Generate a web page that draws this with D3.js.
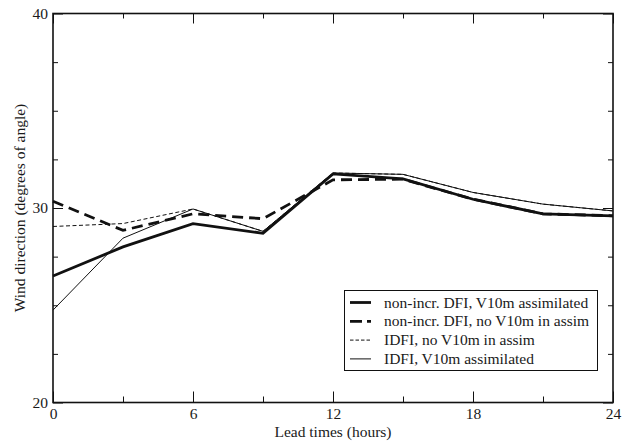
<!DOCTYPE html>
<html>
<head>
<meta charset="utf-8">
<script src="https://cdn.jsdelivr.net/npm/d3@7"></script>
<style>
  body { margin: 0; background: #fff; }
  text { font-family: "Liberation Serif", "DejaVu Serif", serif; fill: #1a1a1a; }
</style>
</head>
<body>
<svg id="svg" width="624" height="441"></svg>
<script>
// lead times (hours)
const hours = [0, 3, 6, 9, 12, 15, 18, 21, 24];

// wind direction (degrees) per experiment
const dfiAssim   = [26.5, 28.0, 29.2, 28.7, 31.75, 31.5, 30.45, 29.7, 29.6];
const dfiNoAssim = [30.35, 28.85, 29.7, 29.45, 31.45, 31.48, 30.45, 29.7, 29.6];
const idfiNoAssim = [29.05, 29.2, 29.95, 28.8, 31.8, 31.73, 30.8, 30.2, 29.85];
const idfiAssim  = [24.75, 28.45, 29.95, 28.8, 31.8, 31.73, 30.8, 30.2, 29.85];

const seriesNames = [
  "non-incr. DFI, V10m assimilated",
  "non-incr. DFI, no V10m in assim",
  "IDFI, no V10m in assim",
  "IDFI, V10m assimilated"
];

const xTicks = [0, 3, 6, 9, 12, 15, 18, 21, 24];
const xLabels = [0, 6, 12, 18, 24];
const yTicks = [20, 22.5, 25, 27.5, 30, 32.5, 35, 37.5, 40];
const yLabels = [20, 30, 40];

const margin = {top: 13.5, right: 11, bottom: 38.5, left: 53};
const width = 624 - margin.left - margin.right;
const height = 441 - margin.top - margin.bottom;

const svg = d3.select("#svg");
const g = svg.append("g")
  .attr("transform", "translate(" + margin.left + "," + margin.top + ")");

const x = d3.scaleLinear().domain([0, 24]).range([0, width]);
const y = d3.scaleLinear().domain([20, 40]).range([height, 0]);

// line styles for each series
const styles = [
  {w: 2.8, dash: null, legendDash: null},
  {w: 2.8, dash: "11,6", legendDash: "12,5"},
  {w: 1, dash: "4,2.5", legendDash: "3.5,2"},
  {w: 1, dash: null, legendDash: null}
];
const allSeries = [dfiAssim, dfiNoAssim, idfiNoAssim, idfiAssim];

const line = d3.line()
  .x((d, i) => x(hours[i]))
  .y(d => y(d));

// draw thin ones first, thick on top
[3, 2, 0, 1].forEach(k => {
  g.append("path")
    .datum(allSeries[k])
    .attr("fill", "none")
    .attr("stroke", "#111")
    .attr("stroke-width", styles[k].w)
    .attr("stroke-dasharray", styles[k].dash)
    .attr("stroke-linejoin", "miter")
    .attr("d", line);
});

// axes: ticks pointing inward on all four sides, longer where labelled
function styleTicks(sel, labels) {
  sel.select(".domain").remove();
  sel.selectAll(".tick line")
    .attr("stroke", "#111")
    .attr("stroke-width", 1);
  sel.selectAll(".tick text")
    .style("font-size", "15.5px")
    .style("font-family", "Liberation Serif")
    .attr("fill", "#1a1a1a")
    .text(d => labels.includes(d) ? d : "");
}

const axBottom = g.append("g")
  .attr("transform", "translate(0," + height + ")")
  .call(d3.axisBottom(x).tickValues(xTicks).tickSize(0).tickPadding(6));
styleTicks(axBottom, xLabels);
axBottom.selectAll(".tick line").attr("y2", d => xLabels.includes(d) ? -11 : -6);
axBottom.selectAll(".tick text").attr("dy", null).attr("y", 16);

const axTop = g.append("g")
  .call(d3.axisTop(x).tickValues(xTicks).tickSize(0).tickFormat(""));
styleTicks(axTop, []);
axTop.selectAll(".tick line").attr("y2", d => xLabels.includes(d) ? 10 : 5);

const axLeft = g.append("g")
  .call(d3.axisLeft(y).tickValues(yTicks).tickSize(0).tickPadding(5));
styleTicks(axLeft, yLabels);
axLeft.selectAll(".tick line").attr("x2", d => yLabels.includes(d) ? 10 : 5);

const axRight = g.append("g")
  .attr("transform", "translate(" + width + ",0)")
  .call(d3.axisRight(y).tickValues(yTicks).tickSize(0).tickFormat(""));
styleTicks(axRight, []);
axRight.selectAll(".tick line").attr("x2", d => yLabels.includes(d) ? -10 : -5);

// frame
g.append("rect")
  .attr("width", width)
  .attr("height", height)
  .attr("fill", "none")
  .attr("stroke", "#111")
  .attr("stroke-width", 1.6);

// axis titles
svg.append("text")
  .attr("x", margin.left + width / 2)
  .attr("y", 437)
  .attr("text-anchor", "middle")
  .style("font-size", "15.5px")
  .text("Lead times (hours)");

svg.append("text")
  .attr("transform", "translate(25," + (margin.top + height / 2) + ") rotate(-90)")
  .attr("text-anchor", "middle")
  .style("font-size", "15.5px")
  .text("Wind direction (degrees of angle)");

// legend
const legend = svg.append("g").attr("class", "legend");
legend.append("rect")
  .attr("x", 344.5)
  .attr("y", 290.5)
  .attr("width", 253)
  .attr("height", 80)
  .attr("fill", "#fff")
  .attr("stroke", "#111")
  .attr("stroke-width", 1);

seriesNames.forEach((name, i) => {
  const ly = 302.5 + i * 18.8;
  legend.append("line")
    .attr("x1", 350).attr("x2", 371)
    .attr("y1", ly).attr("y2", ly)
    .attr("stroke", "#111")
    .attr("stroke-width", styles[i].w)
    .attr("stroke-dasharray", styles[i].legendDash);
  legend.append("text")
    .attr("x", 384)
    .attr("y", ly + 5)
    .style("font-size", "15.5px")
    .text(name);
});
</script>
</body>
</html>
